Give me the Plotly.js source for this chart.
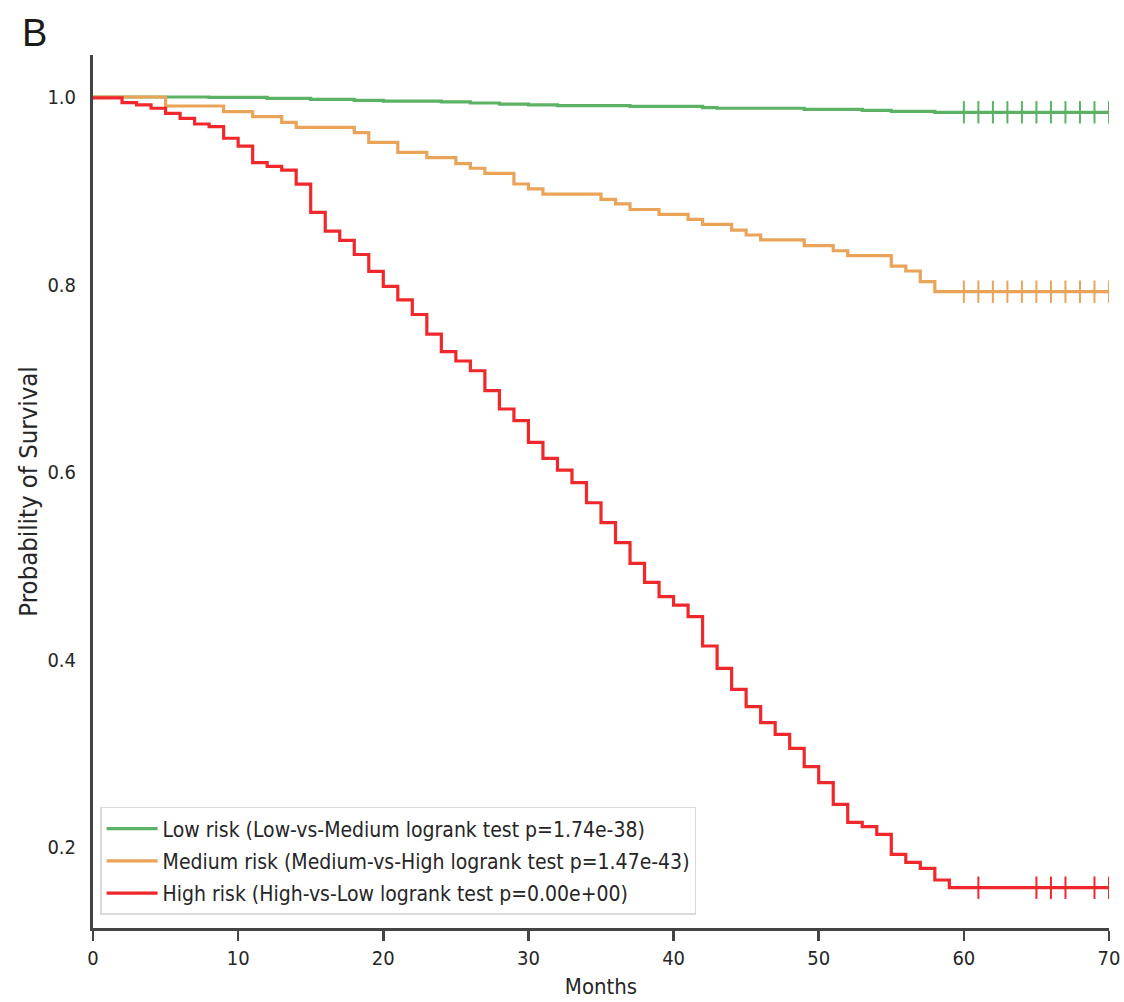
<!DOCTYPE html>
<html>
<head>
<meta charset="utf-8">
<script src="https://cdn.plot.ly/plotly-3.0.1.min.js"></script>
<style>html,body{margin:0;padding:0;background:#fff;}#chart{width:1124px;height:1002px;}</style>
</head>
<body>
<div id="chart"></div>
<script>
// Kaplan-Meier step data (step start times in months, survival probability)
const lowTimes = [0, 8, 12, 15, 18, 20, 24, 26, 28, 30, 32, 37, 42, 43, 49, 53, 55, 58, 70];
const lowSurv  = [1.0, 0.9997, 0.9986, 0.9975, 0.9965, 0.9957, 0.9947, 0.9936, 0.9925, 0.9915, 0.9907, 0.99, 0.9886, 0.988, 0.9869, 0.9858, 0.9847, 0.9837, 0.9837];

const medTimes = [0, 5, 9, 11, 13, 14, 18, 19, 21, 23, 25, 26, 27, 29, 30, 31, 35, 36, 37, 39, 41, 42, 44, 45, 46, 49, 51, 52, 55, 56, 57, 58, 70];
const medSurv  = [1.0, 0.9904, 0.9844, 0.979, 0.973, 0.9676, 0.962, 0.9516, 0.941, 0.9353, 0.929, 0.924, 0.9186, 0.9072, 0.9019, 0.8965, 0.8908, 0.8859, 0.88, 0.8749, 0.8695, 0.8642, 0.8581, 0.8528, 0.8475, 0.8414, 0.836, 0.8307, 0.8197, 0.8144, 0.803, 0.7923, 0.7923];

const highTimes = [0, 2, 3, 4, 5, 6, 7, 8, 9, 10, 11, 12, 13, 14, 15, 16, 17, 18, 19, 20, 21, 22, 23, 24, 25, 26, 27, 28, 29, 30, 31, 32, 33, 34, 35, 36, 37, 38, 39, 40, 41, 42, 43, 44, 45, 46, 47, 48, 49, 50, 51, 52, 53, 54, 55, 56, 57, 58, 59, 70];
const highSurv  = [0.999, 0.994, 0.9915, 0.988, 0.9826, 0.9773, 0.9712, 0.9683, 0.956, 0.9477, 0.930, 0.926, 0.922, 0.907, 0.877, 0.857, 0.847, 0.832, 0.814, 0.798, 0.7835, 0.768, 0.747, 0.7284, 0.7184, 0.708, 0.6867, 0.6672, 0.6547, 0.6317, 0.6146, 0.602, 0.5886, 0.5672, 0.546, 0.5246, 0.5026, 0.4823, 0.467, 0.4581, 0.4457, 0.4144, 0.3906, 0.3682, 0.3497, 0.3326, 0.3202, 0.3053, 0.2857, 0.2686, 0.2455, 0.2263, 0.2217, 0.2135, 0.1922, 0.1837, 0.1773, 0.1648, 0.1566, 0.1566];

// censoring marks
const lowCensT  = [60, 61, 62, 63, 64, 65, 66, 67, 68, 69, 70];
const lowCensS  = [0.9837, 0.9837, 0.9837, 0.9837, 0.9837, 0.9837, 0.9837, 0.9837, 0.9837, 0.9837, 0.9837];
const medCensT  = [60, 61, 62, 63, 64, 65, 66, 67, 68, 69, 70];
const medCensS  = [0.7923, 0.7923, 0.7923, 0.7923, 0.7923, 0.7923, 0.7923, 0.7923, 0.7923, 0.7923, 0.7923];
const highCensT = [61, 65, 66, 67, 69, 70];
const highCensS = [0.1566, 0.1566, 0.1566, 0.1566, 0.1566, 0.1566];

const seriesNames = [
  "Low risk (Low-vs-Medium logrank test p=1.74e-38)",
  "Medium risk (Medium-vs-High logrank test p=1.47e-43)",
  "High risk (High-vs-Low logrank test p=0.00e+00)"
];
const xTicks = [0, 10, 20, 30, 40, 50, 60, 70];
const yTicks = [0.2, 0.4, 0.6, 0.8, 1.0];

const colors = ["#5cb264", "#e9a459", "#f0282b"];
const FONT = '"DejaVu Sans Condensed", "DejaVu Sans", sans-serif';

function stepTrace(x, y, name, color, grp) {
  return {x: x, y: y, name: name, type: 'scatter', mode: 'lines',
    line: {shape: 'hv', color: color, width: 3.2}, legendgroup: grp, hoverinfo: 'skip'};
}
function censTrace(x, y, color, grp) {
  return {x: x, y: y, type: 'scatter', mode: 'markers', showlegend: false, legendgroup: grp,
    marker: {symbol: 'line-ns', size: 16, color: color, line: {color: color, width: 2}}, hoverinfo: 'skip'};
}

const data = [
  stepTrace(lowTimes, lowSurv, seriesNames[0], colors[0], 'g1'),
  censTrace(lowCensT, lowCensS, colors[0], 'g1'),
  stepTrace(medTimes, medSurv, seriesNames[1], colors[1], 'g2'),
  censTrace(medCensT, medCensS, colors[1], 'g2'),
  stepTrace(highTimes, highSurv, seriesNames[2], colors[2], 'g3'),
  censTrace(highCensT, highCensS, colors[2], 'g3')
];

const layout = {
  width: 1124, height: 1002,
  margin: {l: 93, r: 15, t: 55, b: 74},
  paper_bgcolor: '#ffffff', plot_bgcolor: '#ffffff',
  font: {family: FONT, color: '#262626', size: 19},
  showlegend: true,
  legend: {
    x: 0.007, y: 0.015, xanchor: 'left', yanchor: 'bottom',
    bgcolor: '#ffffff', bordercolor: '#d9d9d9', borderwidth: 1.5,
    font: {family: FONT, size: 21, color: '#262626'},
    traceorder: 'grouped', tracegroupgap: 2, itemwidth: 51
  },
  xaxis: {
    range: [0, 70], tickvals: xTicks, ticktext: xTicks.map(String),
    showgrid: false, zeroline: false,
    showline: true, linecolor: '#444444', linewidth: 2.5,
    ticks: 'outside', ticklen: 10, tickwidth: 2.5, tickcolor: '#444444',
    tickfont: {family: FONT, size: 20, color: '#262626'},
    title: {text: 'Months', font: {family: FONT, size: 22, color: '#262626'}, standoff: 10}
  },
  yaxis: {
    range: [0.1136, 1.0448], tickvals: yTicks, ticktext: yTicks.map(v => v.toFixed(1)),
    showgrid: false, zeroline: false,
    showline: true, linecolor: '#444444', linewidth: 3,
    ticks: '', ticklabelstandoff: 10,
    tickfont: {family: FONT, size: 20, color: '#262626'},
    title: {text: 'Probability of Survival', font: {family: FONT, size: 25.5, color: '#262626'}, standoff: 3}
  },
  annotations: [{
    text: 'B', xref: 'paper', yref: 'paper', x: -0.072, y: 1.052,
    xanchor: 'left', yanchor: 'top', showarrow: false,
    font: {family: '"Liberation Sans", Arial, sans-serif', size: 38, color: '#1a1a1a'}
  }]
};

Plotly.newPlot('chart', data, layout, {displayModeBar: false, staticPlot: true});
</script>
</body>
</html>
